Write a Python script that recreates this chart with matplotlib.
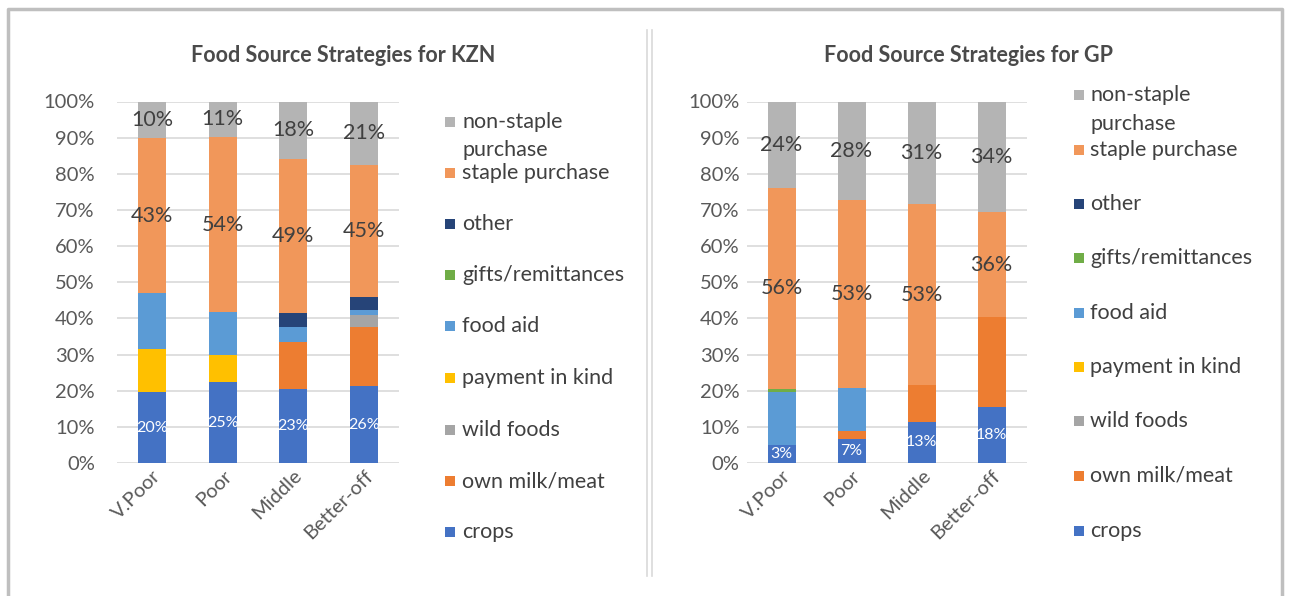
import matplotlib
matplotlib.use('Agg')
import matplotlib.pyplot as plt
import matplotlib.transforms as mtransforms
from matplotlib.patches import Rectangle
from matplotlib.lines import Line2D
import numpy as np

plt.rcParams['font.family'] = ['Lato', 'DejaVu Sans']

groups = ['V.Poor', 'Poor', 'Middle', 'Better-off']
series = ['crops', 'own milk/meat', 'wild foods', 'payment in kind', 'food aid',
          'gifts/remittances', 'other', 'staple purchase', 'non-staple purchase']
colors = ['#4472C4', '#ED7D31', '#A5A5A5', '#FFC000', '#5B9BD5',
          '#70AD47', '#264478', '#F1975A', '#B4B4B4']

# share of each source in the bar (%)
kzn_crops = [19.6, 22.4, 20.4, 21.2]
kzn_milk = [0, 0, 13.1, 16.5]
kzn_wild = [0, 0, 0, 3.2]
kzn_payment = [12.0, 7.4, 0, 0]
kzn_aid = [15.4, 11.9, 4.2, 1.3]
kzn_gifts = [0, 0, 0, 0]
kzn_other = [0, 0, 3.8, 3.6]
kzn_staple = [42.9, 48.5, 42.7, 36.7]
kzn_nonstaple = [10.1, 9.8, 15.8, 17.5]

gp_crops = [5.0, 6.7, 11.4, 15.5]
gp_milk = [0, 2.2, 10.1, 24.8]
gp_wild = [0, 0, 0, 0]
gp_payment = [0, 0, 0, 0]
gp_aid = [14.7, 11.9, 0, 0]
gp_gifts = [0.9, 0, 0, 0]
gp_other = [0, 0, 0, 0]
gp_staple = [55.6, 52.0, 50.1, 29.2]
gp_nonstaple = [23.8, 27.2, 28.4, 30.5]

# data labels as printed on the chart
kzn_crops_lbl = ['20%', '25%', '23%', '26%']
kzn_staple_lbl = ['43%', '54%', '49%', '45%']
kzn_nonstaple_lbl = ['10%', '11%', '18%', '21%']
gp_crops_lbl = ['3%', '7%', '13%', '18%']
gp_staple_lbl = ['56%', '53%', '53%', '36%']
gp_nonstaple_lbl = ['24%', '28%', '31%', '34%']

W, H = 1290, 596
fig = plt.figure(figsize=(W / 100, H / 100), dpi=100)
FS = 14.5


def fx(x):
    return x / W


def fy(y):
    return 1 - y / H


def stacked(ax, data, labels, ytick_pad):
    x = np.arange(len(groups))
    bottom = np.zeros(len(groups))
    for i, vals in enumerate(data):
        vals = np.array(vals, dtype=float)
        ax.bar(x, vals, 0.4, bottom=bottom, color=colors[i], linewidth=0, zorder=3)
        if labels[i] is not None:
            for j in range(len(groups)):
                col = 'white' if i == 0 else '#404040'
                fs = 11.5 if i == 0 else 15.5
                ax.text(x[j], bottom[j] + vals[j] / 2, labels[i][j], ha='center', va='center',
                        color=col, fontsize=fs, zorder=4)
        bottom += vals
    ax.set_ylim(0, 100)
    ax.set_xlim(-0.5, len(groups) - 0.5)
    ax.set_yticks(np.arange(0, 101, 10))
    ax.set_yticklabels(['%d%%' % v for v in range(0, 101, 10)])
    ax.set_xticks(x)
    ax.tick_params(axis='both', length=0, labelsize=FS, labelcolor='#595959')
    ax.tick_params(axis='y', pad=ytick_pad)
    ax.tick_params(axis='x', pad=0)
    ax.set_xticklabels(groups, rotation=45, ha='right', va='center', rotation_mode='anchor')
    off = mtransforms.ScaledTranslation(6 / 100, -10 / 100, fig.dpi_scale_trans)
    for t in ax.get_xticklabels():
        t.set_transform(t.get_transform() + off)
    ax.yaxis.grid(True, color='#D9D9D9', linewidth=1.2, zorder=0)
    for s in ax.spines.values():
        s.set_visible(False)


def legend(x_mark, x_text, ys, line_gap):
    for i in range(len(series) - 1, -1, -1):
        y = ys[len(series) - 1 - i]
        fig.patches.append(Rectangle((fx(x_mark), fy(y + 5)), 10 / W, 10 / H, transform=fig.transFigure,
                                     facecolor=colors[i], edgecolor='none'))
        name = series[i]
        lines = ['non-staple', 'purchase'] if name == 'non-staple purchase' else [name]
        for k, ln in enumerate(lines):
            fig.text(fx(x_text), fy(y + k * line_gap), ln, ha='left', va='center',
                     fontsize=15.5, color='#404040')


# outer frame and divider
fig.add_artist(Line2D([fx(8), fx(8), fx(1282), fx(1282)], [0, fy(9), fy(9), 0],
                      transform=fig.transFigure, color='#BFBFBF', linewidth=2.5))
for xd in [647, 652]:
    fig.add_artist(Line2D([fx(xd), fx(xd)], [fy(30), fy(576)], transform=fig.transFigure,
                          color='#D9D9D9', linewidth=1.2))

ax1 = fig.add_axes([fx(117), fy(463), 282 / W, 361.5 / H])
stacked(ax1, [kzn_crops, kzn_milk, kzn_wild, kzn_payment, kzn_aid, kzn_gifts, kzn_other,
              kzn_staple, kzn_nonstaple],
        [kzn_crops_lbl, None, None, None, None, None, None, kzn_staple_lbl, kzn_nonstaple_lbl], 16)

ax2 = fig.add_axes([fx(746.5), fy(463), 280 / W, 361.5 / H])
stacked(ax2, [gp_crops, gp_milk, gp_wild, gp_payment, gp_aid, gp_gifts, gp_other,
              gp_staple, gp_nonstaple],
        [gp_crops_lbl, None, None, None, None, None, None, gp_staple_lbl, gp_nonstaple_lbl], 5)

fig.text(fx(343), fy(55), 'Food Source Strategies for KZN', ha='center', va='center',
         fontsize=15.5, fontweight='bold', color='#4A4A4A')
fig.text(fx(969), fy(55), 'Food Source Strategies for GP', ha='center', va='center',
         fontsize=15.5, fontweight='bold', color='#4A4A4A')

legend(445, 462, [122, 173, 224, 275, 326, 378, 430, 481, 532], 28)
legend(1074, 1090, [95, 150, 204, 258, 313, 367, 421, 476, 531], 29)

fig.savefig('out.png', dpi=100, facecolor='white')
